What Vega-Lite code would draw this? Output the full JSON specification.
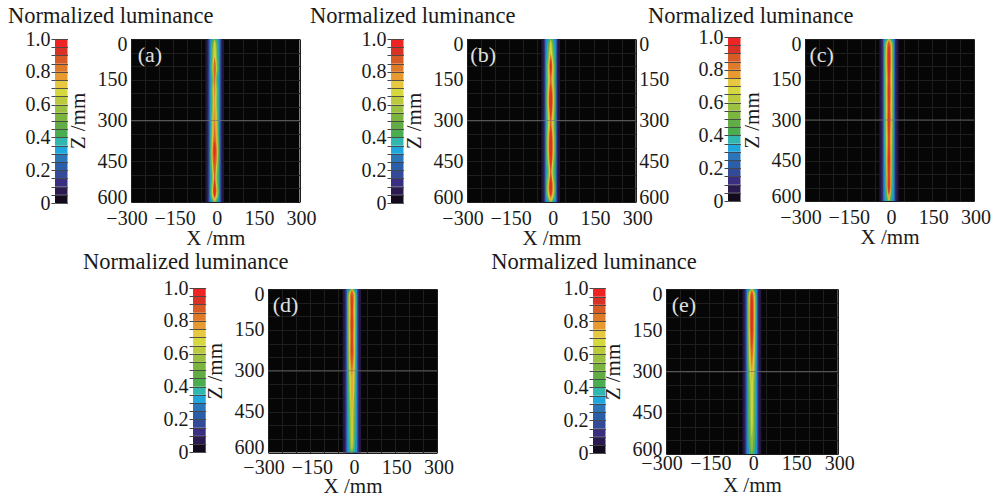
{"$schema":"https://vega.github.io/schema/vega-lite/v6.json","padding":{"left":0,"top":4,"right":0,"bottom":0},"background":"white",
"config":{"view":{"stroke":null},"font":"Liberation Serif","axis":{"labelFont":"Liberation Serif","titleFont":"Liberation Serif","labelFontSize":20,"titleFontSize":21,"titleFontWeight":"normal","labelColor":"#1a1a1a","titleColor":"#1a1a1a","labelOverlap":false,"domain":false}},
"datasets":{
"bar":[{"lo":0,"hi":0.05,"m":0.025},{"lo":0.05,"hi":0.1,"m":0.075},{"lo":0.1,"hi":0.15,"m":0.125},{"lo":0.15,"hi":0.2,"m":0.175},{"lo":0.2,"hi":0.25,"m":0.225},{"lo":0.25,"hi":0.3,"m":0.275},{"lo":0.3,"hi":0.35,"m":0.325},{"lo":0.35,"hi":0.4,"m":0.375},{"lo":0.4,"hi":0.45,"m":0.425},{"lo":0.45,"hi":0.5,"m":0.475},{"lo":0.5,"hi":0.55,"m":0.525},{"lo":0.55,"hi":0.6,"m":0.575},{"lo":0.6,"hi":0.65,"m":0.625},{"lo":0.65,"hi":0.7,"m":0.675},{"lo":0.7,"hi":0.75,"m":0.725},{"lo":0.75,"hi":0.8,"m":0.775},{"lo":0.8,"hi":0.85,"m":0.825},{"lo":0.85,"hi":0.9,"m":0.875},{"lo":0.9,"hi":0.95,"m":0.925},{"lo":0.95,"hi":1,"m":0.975}],
"a":[{"l":0.06,"z":0,"a":-35,"b":31},{"l":0.06,"z":600,"a":-35,"b":31},{"l":0.1,"z":0,"a":-28,"b":24},{"l":0.1,"z":600,"a":-28,"b":24},{"l":0.2,"z":0,"a":-24,"b":20},{"l":0.2,"z":600,"a":-24,"b":20},{"l":0.3,"z":0,"a":-20,"b":16},{"l":0.3,"z":600,"a":-20,"b":16},
{"l":0.38,"z":0,"a":-11,"b":7},{"l":0.38,"z":20,"a":-16,"b":12},{"l":0.38,"z":65,"a":-16,"b":12},{"l":0.38,"z":112,"a":-18,"b":14},{"l":0.38,"z":150,"a":-14,"b":10},{"l":0.38,"z":180,"a":-17,"b":13},{"l":0.38,"z":228,"a":-16,"b":12},{"l":0.38,"z":283,"a":-17,"b":13},{"l":0.38,"z":345,"a":-17,"b":13},{"l":0.38,"z":406,"a":-19,"b":15},{"l":0.38,"z":460,"a":-18,"b":14},{"l":0.38,"z":516,"a":-16,"b":12},{"l":0.38,"z":560,"a":-19,"b":15},{"l":0.38,"z":585,"a":-17,"b":13},{"l":0.38,"z":600,"a":-11,"b":7},
{"l":0.46,"z":0,"a":-7,"b":3},{"l":0.46,"z":20,"a":-14,"b":10},{"l":0.46,"z":65,"a":-14,"b":10},{"l":0.46,"z":112,"a":-17,"b":13},{"l":0.46,"z":150,"a":-11,"b":7},{"l":0.46,"z":180,"a":-15,"b":11},{"l":0.46,"z":228,"a":-14,"b":10},{"l":0.46,"z":283,"a":-15,"b":11},{"l":0.46,"z":345,"a":-15,"b":11},{"l":0.46,"z":406,"a":-18,"b":14},{"l":0.46,"z":460,"a":-17,"b":13},{"l":0.46,"z":516,"a":-14,"b":10},{"l":0.46,"z":560,"a":-18,"b":14},{"l":0.46,"z":585,"a":-15,"b":11},{"l":0.46,"z":600,"a":-7,"b":3},
{"l":0.56,"z":0,"a":-2,"b":-2},{"l":0.56,"z":20,"a":-10,"b":6},{"l":0.56,"z":65,"a":-10,"b":6},{"l":0.56,"z":112,"a":-14,"b":10},{"l":0.56,"z":150,"a":-7,"b":3},{"l":0.56,"z":180,"a":-13,"b":9},{"l":0.56,"z":228,"a":-10,"b":6},{"l":0.56,"z":283,"a":-13,"b":9},{"l":0.56,"z":345,"a":-13,"b":9},{"l":0.56,"z":406,"a":-16,"b":12},{"l":0.56,"z":460,"a":-14,"b":10},{"l":0.56,"z":516,"a":-10,"b":6},{"l":0.56,"z":560,"a":-16,"b":12},{"l":0.56,"z":585,"a":-13,"b":9},{"l":0.56,"z":600,"a":-2,"b":-2},
{"l":0.66,"z":0,"a":-2,"b":-2},{"l":0.66,"z":20,"a":-6,"b":2},{"l":0.66,"z":65,"a":-6,"b":2},{"l":0.66,"z":112,"a":-12,"b":8},{"l":0.66,"z":150,"a":-2,"b":-2},{"l":0.66,"z":180,"a":-10,"b":6},{"l":0.66,"z":228,"a":-6,"b":2},{"l":0.66,"z":283,"a":-10,"b":6},{"l":0.66,"z":345,"a":-10,"b":6},{"l":0.66,"z":406,"a":-13,"b":9},{"l":0.66,"z":460,"a":-12,"b":8},{"l":0.66,"z":516,"a":-6,"b":2},{"l":0.66,"z":560,"a":-13,"b":9},{"l":0.66,"z":585,"a":-10,"b":6},{"l":0.66,"z":600,"a":-2,"b":-2},
{"l":0.76,"z":65,"a":-2,"b":-2},{"l":0.76,"z":112,"a":-9,"b":5},{"l":0.76,"z":150,"a":-2,"b":-2},{"l":0.76,"z":180,"a":-8,"b":4},{"l":0.76,"z":228,"a":-2,"b":-2},{"l":0.76,"z":283,"a":-9,"b":5},{"l":0.76,"z":345,"a":-9,"b":5},{"l":0.76,"z":406,"a":-11,"b":7},{"l":0.76,"z":460,"a":-9,"b":5},{"l":0.76,"z":516,"a":-2,"b":-2},{"l":0.76,"z":560,"a":-11,"b":7},{"l":0.76,"z":585,"a":-6,"b":2},{"l":0.76,"z":600,"a":-2,"b":-2},
{"l":0.86,"z":65,"a":-2,"b":-2},{"l":0.86,"z":112,"a":-8,"b":4},{"l":0.86,"z":150,"a":-2,"b":-2},{"l":0.86,"z":345,"a":-2,"b":-2},{"l":0.86,"z":406,"a":-11,"b":7},{"l":0.86,"z":460,"a":-8,"b":4},{"l":0.86,"z":516,"a":-2,"b":-2},{"l":0.86,"z":560,"a":-11,"b":7},{"l":0.86,"z":585,"a":-2,"b":-2},
{"l":0.94,"z":375,"a":-2,"b":-2},{"l":0.94,"z":406,"a":-8,"b":4},{"l":0.94,"z":445,"a":-2,"b":-2},{"l":0.94,"z":530,"a":-2,"b":-2},{"l":0.94,"z":560,"a":-8,"b":4},{"l":0.94,"z":585,"a":-2,"b":-2}],
"b":[{"l":0.06,"z":0,"a":-35,"b":31},{"l":0.06,"z":600,"a":-35,"b":31},{"l":0.1,"z":0,"a":-28,"b":24},{"l":0.1,"z":600,"a":-28,"b":24},{"l":0.2,"z":0,"a":-24,"b":20},{"l":0.2,"z":600,"a":-24,"b":20},{"l":0.3,"z":0,"a":-21,"b":17},{"l":0.3,"z":600,"a":-21,"b":17},
{"l":0.38,"z":0,"a":-11,"b":7},{"l":0.38,"z":22,"a":-16,"b":12},{"l":0.38,"z":55,"a":-16,"b":12},{"l":0.38,"z":100,"a":-19,"b":15},{"l":0.38,"z":150,"a":-17,"b":13},{"l":0.38,"z":190,"a":-19,"b":15},{"l":0.38,"z":310,"a":-17,"b":13},{"l":0.38,"z":350,"a":-19,"b":15},{"l":0.38,"z":440,"a":-19,"b":15},{"l":0.38,"z":490,"a":-16,"b":12},{"l":0.38,"z":530,"a":-19,"b":15},{"l":0.38,"z":565,"a":-19,"b":15},{"l":0.38,"z":585,"a":-17,"b":13},{"l":0.38,"z":600,"a":-11,"b":7},
{"l":0.46,"z":0,"a":-7,"b":3},{"l":0.46,"z":22,"a":-14,"b":10},{"l":0.46,"z":55,"a":-14,"b":10},{"l":0.46,"z":100,"a":-18,"b":14},{"l":0.46,"z":150,"a":-15,"b":11},{"l":0.46,"z":190,"a":-18,"b":14},{"l":0.46,"z":250,"a":-18,"b":14},{"l":0.46,"z":310,"a":-15,"b":11},{"l":0.46,"z":350,"a":-18,"b":14},{"l":0.46,"z":440,"a":-18,"b":14},{"l":0.46,"z":490,"a":-14,"b":10},{"l":0.46,"z":530,"a":-18,"b":14},{"l":0.46,"z":565,"a":-18,"b":14},{"l":0.46,"z":585,"a":-15,"b":11},{"l":0.46,"z":600,"a":-7,"b":3},
{"l":0.56,"z":0,"a":-2,"b":-2},{"l":0.56,"z":22,"a":-10,"b":6},{"l":0.56,"z":55,"a":-10,"b":6},{"l":0.56,"z":100,"a":-16,"b":12},{"l":0.56,"z":150,"a":-13,"b":9},{"l":0.56,"z":190,"a":-16,"b":12},{"l":0.56,"z":250,"a":-16,"b":12},{"l":0.56,"z":310,"a":-13,"b":9},{"l":0.56,"z":350,"a":-16,"b":12},{"l":0.56,"z":440,"a":-16,"b":12},{"l":0.56,"z":490,"a":-10,"b":6},{"l":0.56,"z":530,"a":-16,"b":12},{"l":0.56,"z":565,"a":-16,"b":12},{"l":0.56,"z":585,"a":-13,"b":9},{"l":0.56,"z":600,"a":-2,"b":-2},
{"l":0.66,"z":0,"a":-2,"b":-2},{"l":0.66,"z":22,"a":-6,"b":2},{"l":0.66,"z":55,"a":-6,"b":2},{"l":0.66,"z":100,"a":-13,"b":9},{"l":0.66,"z":150,"a":-10,"b":6},{"l":0.66,"z":190,"a":-13,"b":9},{"l":0.66,"z":250,"a":-13,"b":9},{"l":0.66,"z":310,"a":-10,"b":6},{"l":0.66,"z":350,"a":-13,"b":9},{"l":0.66,"z":440,"a":-13,"b":9},{"l":0.66,"z":490,"a":-6,"b":2},{"l":0.66,"z":530,"a":-13,"b":9},{"l":0.66,"z":565,"a":-13,"b":9},{"l":0.66,"z":585,"a":-10,"b":6},{"l":0.66,"z":600,"a":-2,"b":-2},
{"l":0.76,"z":55,"a":-2,"b":-2},{"l":0.76,"z":100,"a":-11,"b":7},{"l":0.76,"z":150,"a":-6,"b":2},{"l":0.76,"z":190,"a":-11,"b":7},{"l":0.76,"z":250,"a":-11,"b":7},{"l":0.76,"z":310,"a":-6,"b":2},{"l":0.76,"z":350,"a":-11,"b":7},{"l":0.76,"z":440,"a":-11,"b":7},{"l":0.76,"z":490,"a":-2,"b":-2},{"l":0.76,"z":530,"a":-11,"b":7},{"l":0.76,"z":565,"a":-11,"b":7},{"l":0.76,"z":585,"a":-6,"b":2},{"l":0.76,"z":600,"a":-2,"b":-2},
{"l":0.86,"z":55,"a":-2,"b":-2},{"l":0.86,"z":100,"a":-9,"b":5},{"l":0.86,"z":150,"a":-2,"b":-2},{"l":0.86,"z":190,"a":-9,"b":5},{"l":0.86,"z":250,"a":-9,"b":5},{"l":0.86,"z":310,"a":-2,"b":-2},{"l":0.86,"z":350,"a":-9,"b":5},{"l":0.86,"z":440,"a":-9,"b":5},{"l":0.86,"z":490,"a":-2,"b":-2},{"l":0.86,"z":530,"a":-9,"b":5},{"l":0.86,"z":565,"a":-9,"b":5},{"l":0.86,"z":585,"a":-2,"b":-2},
{"l":0.94,"z":70,"a":-2,"b":-2},{"l":0.94,"z":100,"a":-7,"b":3},{"l":0.94,"z":135,"a":-2,"b":-2},{"l":0.94,"z":170,"a":-2,"b":-2},{"l":0.94,"z":200,"a":-7,"b":3},{"l":0.94,"z":250,"a":-7,"b":3},{"l":0.94,"z":300,"a":-2,"b":-2},{"l":0.94,"z":320,"a":-2,"b":-2},{"l":0.94,"z":350,"a":-7,"b":3},{"l":0.94,"z":440,"a":-7,"b":3},{"l":0.94,"z":480,"a":-2,"b":-2},{"l":0.94,"z":500,"a":-2,"b":-2},{"l":0.94,"z":530,"a":-7,"b":3},{"l":0.94,"z":565,"a":-6,"b":2},{"l":0.94,"z":580,"a":-2,"b":-2}],
"c":[{"l":0.06,"z":0,"a":-36,"b":32},{"l":0.06,"z":600,"a":-36,"b":32},{"l":0.1,"z":0,"a":-29,"b":25},{"l":0.1,"z":600,"a":-29,"b":25},{"l":0.2,"z":0,"a":-24,"b":20},{"l":0.2,"z":600,"a":-24,"b":20},{"l":0.3,"z":0,"a":-21,"b":17},{"l":0.3,"z":600,"a":-21,"b":17},
{"l":0.38,"z":0,"a":-11,"b":7},{"l":0.38,"z":12,"a":-18,"b":14},{"l":0.38,"z":30,"a":-19,"b":15},{"l":0.38,"z":580,"a":-18,"b":14},{"l":0.38,"z":600,"a":-11,"b":7},
{"l":0.46,"z":0,"a":-7,"b":3},{"l":0.46,"z":12,"a":-17,"b":13},{"l":0.46,"z":30,"a":-18,"b":14},{"l":0.46,"z":580,"a":-16,"b":12},{"l":0.46,"z":600,"a":-7,"b":3},
{"l":0.56,"z":0,"a":-2,"b":-2},{"l":0.56,"z":12,"a":-14,"b":10},{"l":0.56,"z":30,"a":-16,"b":12},{"l":0.56,"z":580,"a":-14,"b":10},{"l":0.56,"z":600,"a":-2,"b":-2},
{"l":0.66,"z":0,"a":-2,"b":-2},{"l":0.66,"z":12,"a":-12,"b":8},{"l":0.66,"z":30,"a":-13,"b":9},{"l":0.66,"z":580,"a":-11,"b":7},{"l":0.66,"z":600,"a":-2,"b":-2},
{"l":0.76,"z":0,"a":-2,"b":-2},{"l":0.76,"z":12,"a":-9,"b":5},{"l":0.76,"z":30,"a":-11,"b":7},{"l":0.76,"z":110,"a":-11,"b":7},{"l":0.76,"z":150,"a":-9,"b":5},{"l":0.76,"z":200,"a":-11,"b":7},{"l":0.76,"z":250,"a":-9,"b":5},{"l":0.76,"z":300,"a":-11,"b":7},{"l":0.76,"z":350,"a":-9,"b":5},{"l":0.76,"z":400,"a":-9,"b":5},{"l":0.76,"z":450,"a":-11,"b":7},{"l":0.76,"z":500,"a":-9,"b":5},{"l":0.76,"z":550,"a":-11,"b":7},{"l":0.76,"z":580,"a":-6,"b":2},{"l":0.76,"z":600,"a":-2,"b":-2},
{"l":0.86,"z":5,"a":-2,"b":-2},{"l":0.86,"z":12,"a":-6,"b":2},{"l":0.86,"z":30,"a":-9,"b":5},{"l":0.86,"z":110,"a":-9,"b":5},{"l":0.86,"z":150,"a":-6,"b":2},{"l":0.86,"z":200,"a":-9,"b":5},{"l":0.86,"z":250,"a":-6,"b":2},{"l":0.86,"z":300,"a":-9,"b":5},{"l":0.86,"z":350,"a":-6,"b":2},{"l":0.86,"z":400,"a":-6,"b":2},{"l":0.86,"z":450,"a":-9,"b":5},{"l":0.86,"z":500,"a":-6,"b":2},{"l":0.86,"z":550,"a":-9,"b":5},{"l":0.86,"z":580,"a":-2,"b":-2},
{"l":0.94,"z":15,"a":-2,"b":-2},{"l":0.94,"z":30,"a":-6,"b":2},{"l":0.94,"z":110,"a":-6,"b":2},{"l":0.94,"z":150,"a":-4,"b":0},{"l":0.94,"z":200,"a":-6,"b":2},{"l":0.94,"z":250,"a":-4,"b":0},{"l":0.94,"z":300,"a":-6,"b":2},{"l":0.94,"z":350,"a":-4,"b":0},{"l":0.94,"z":400,"a":-4,"b":0},{"l":0.94,"z":450,"a":-6,"b":2},{"l":0.94,"z":500,"a":-4,"b":0},{"l":0.94,"z":550,"a":-6,"b":2},{"l":0.94,"z":575,"a":-2,"b":-2}],
"d":[{"l":0.06,"z":0,"a":-35,"b":31},{"l":0.06,"z":600,"a":-35,"b":31},{"l":0.1,"z":0,"a":-28,"b":24},{"l":0.1,"z":600,"a":-28,"b":24},{"l":0.2,"z":0,"a":-24,"b":20},{"l":0.2,"z":600,"a":-24,"b":20},{"l":0.3,"z":0,"a":-20,"b":16},{"l":0.3,"z":600,"a":-20,"b":16},
{"l":0.38,"z":0,"a":-11,"b":7},{"l":0.38,"z":12,"a":-18,"b":14},{"l":0.38,"z":30,"a":-19,"b":15},{"l":0.38,"z":320,"a":-17,"b":13},{"l":0.38,"z":440,"a":-16,"b":12},{"l":0.38,"z":590,"a":-14,"b":10},{"l":0.38,"z":600,"a":-11,"b":7},
{"l":0.46,"z":0,"a":-7,"b":3},{"l":0.46,"z":12,"a":-17,"b":13},{"l":0.46,"z":30,"a":-18,"b":14},{"l":0.46,"z":320,"a":-15,"b":11},{"l":0.46,"z":440,"a":-14,"b":10},{"l":0.46,"z":590,"a":-11,"b":7},{"l":0.46,"z":600,"a":-7,"b":3},
{"l":0.56,"z":0,"a":-2,"b":-2},{"l":0.56,"z":12,"a":-14,"b":10},{"l":0.56,"z":30,"a":-16,"b":12},{"l":0.56,"z":270,"a":-14,"b":10},{"l":0.56,"z":320,"a":-13,"b":9},{"l":0.56,"z":440,"a":-10,"b":6},{"l":0.56,"z":570,"a":-10,"b":6},{"l":0.56,"z":590,"a":-7,"b":3},{"l":0.56,"z":600,"a":-2,"b":-2},
{"l":0.66,"z":0,"a":-2,"b":-2},{"l":0.66,"z":12,"a":-12,"b":8},{"l":0.66,"z":30,"a":-13,"b":9},{"l":0.66,"z":270,"a":-12,"b":8},{"l":0.66,"z":320,"a":-10,"b":6},{"l":0.66,"z":380,"a":-10,"b":6},{"l":0.66,"z":440,"a":-6,"b":2},{"l":0.66,"z":570,"a":-6,"b":2},{"l":0.66,"z":590,"a":-2,"b":-2},
{"l":0.76,"z":0,"a":-2,"b":-2},{"l":0.76,"z":12,"a":-9,"b":5},{"l":0.76,"z":30,"a":-11,"b":7},{"l":0.76,"z":90,"a":-9,"b":5},{"l":0.76,"z":120,"a":-11,"b":7},{"l":0.76,"z":180,"a":-9,"b":5},{"l":0.76,"z":230,"a":-11,"b":7},{"l":0.76,"z":270,"a":-9,"b":5},{"l":0.76,"z":320,"a":-6,"b":2},{"l":0.76,"z":380,"a":-6,"b":2},{"l":0.76,"z":440,"a":-3.5,"b":-0.5},{"l":0.76,"z":570,"a":-3.5,"b":-0.5},{"l":0.76,"z":590,"a":-2,"b":-2},
{"l":0.86,"z":5,"a":-2,"b":-2},{"l":0.86,"z":12,"a":-6,"b":2},{"l":0.86,"z":30,"a":-9,"b":5},{"l":0.86,"z":90,"a":-6,"b":2},{"l":0.86,"z":120,"a":-9,"b":5},{"l":0.86,"z":180,"a":-6,"b":2},{"l":0.86,"z":230,"a":-9,"b":5},{"l":0.86,"z":270,"a":-6,"b":2},{"l":0.86,"z":320,"a":-2,"b":-2},
{"l":0.94,"z":15,"a":-2,"b":-2},{"l":0.94,"z":30,"a":-5,"b":1},{"l":0.94,"z":90,"a":-4,"b":0},{"l":0.94,"z":120,"a":-5,"b":1},{"l":0.94,"z":180,"a":-4,"b":0},{"l":0.94,"z":230,"a":-5,"b":1},{"l":0.94,"z":270,"a":-2,"b":-2}],
"e":[{"l":0.06,"z":0,"a":-33,"b":33},{"l":0.06,"z":600,"a":-33,"b":33},{"l":0.1,"z":0,"a":-26,"b":26},{"l":0.1,"z":600,"a":-26,"b":26},{"l":0.2,"z":0,"a":-22,"b":22},{"l":0.2,"z":600,"a":-22,"b":22},{"l":0.3,"z":0,"a":-18,"b":18},{"l":0.3,"z":600,"a":-18,"b":18},
{"l":0.38,"z":0,"a":-9,"b":9},{"l":0.38,"z":12,"a":-16,"b":16},{"l":0.38,"z":30,"a":-17,"b":17},{"l":0.38,"z":290,"a":-15,"b":15},{"l":0.38,"z":340,"a":-14,"b":14},{"l":0.38,"z":540,"a":-13,"b":13},{"l":0.38,"z":600,"a":-9,"b":9},
{"l":0.46,"z":0,"a":-5,"b":5},{"l":0.46,"z":12,"a":-15,"b":15},{"l":0.46,"z":30,"a":-16,"b":16},{"l":0.46,"z":290,"a":-13,"b":13},{"l":0.46,"z":340,"a":-12,"b":12},{"l":0.46,"z":500,"a":-12,"b":12},{"l":0.46,"z":540,"a":-11,"b":11},{"l":0.46,"z":590,"a":-10,"b":10},{"l":0.46,"z":600,"a":-5,"b":5},
{"l":0.56,"z":0,"a":0,"b":0},{"l":0.56,"z":12,"a":-12,"b":12},{"l":0.56,"z":30,"a":-14,"b":14},{"l":0.56,"z":220,"a":-12,"b":12},{"l":0.56,"z":290,"a":-11,"b":11},{"l":0.56,"z":340,"a":-8,"b":8},{"l":0.56,"z":500,"a":-8,"b":8},{"l":0.56,"z":540,"a":-6,"b":6},{"l":0.56,"z":590,"a":-3,"b":3},{"l":0.56,"z":600,"a":0,"b":0},
{"l":0.66,"z":0,"a":0,"b":0},{"l":0.66,"z":12,"a":-10,"b":10},{"l":0.66,"z":30,"a":-11,"b":11},{"l":0.66,"z":220,"a":-10,"b":10},{"l":0.66,"z":290,"a":-8,"b":8},{"l":0.66,"z":340,"a":-4,"b":4},{"l":0.66,"z":500,"a":-4,"b":4},{"l":0.66,"z":540,"a":0,"b":0},
{"l":0.76,"z":0,"a":0,"b":0},{"l":0.76,"z":12,"a":-7,"b":7},{"l":0.76,"z":30,"a":-9,"b":9},{"l":0.76,"z":160,"a":-9,"b":9},{"l":0.76,"z":220,"a":-7,"b":7},{"l":0.76,"z":290,"a":-4,"b":4},{"l":0.76,"z":340,"a":0,"b":0},
{"l":0.86,"z":5,"a":0,"b":0},{"l":0.86,"z":12,"a":-4,"b":4},{"l":0.86,"z":30,"a":-7,"b":7},{"l":0.86,"z":160,"a":-7,"b":7},{"l":0.86,"z":220,"a":-4,"b":4},{"l":0.86,"z":290,"a":0,"b":0},
{"l":0.94,"z":15,"a":0,"b":0},{"l":0.94,"z":30,"a":-4,"b":4},{"l":0.94,"z":160,"a":-4,"b":4},{"l":0.94,"z":220,"a":0,"b":0}]
},
"bounds":"flush","spacing":250,"resolve":{"scale":{"color":"independent"}},
"vconcat":[
{"bounds":"flush","spacing":0,"resolve":{"scale":{"color":"independent"}},"hconcat":[
{"data":{"values":[]},"mark":"point","encoding":{},"width":54.5,"height":163},
{"title":{"text":"Normalized luminance","anchor":"start","frame":"group","align":"left","baseline":"alphabetic","dx":-47,"offset":-16,"fontSize":22.5,"fontWeight":"normal","font":"Liberation Serif","color":"#1a1a1a"},"data":{"name":"bar"},"width":12.5,"height":163,"mark":"rect","encoding":{"y":{"field":"lo","type":"quantitative","scale":{"domain":[0,1],"range":[164,0]},"axis":{"values":[0,0.05,0.1,0.15,0.2,0.25,0.3,0.35,0.4,0.45,0.5,0.55,0.6,0.65,0.7,0.75,0.8,0.85,0.9,0.95,1],"labelExpr":"round(datum.value*20)%4==0?(datum.value==0?'0':format(datum.value,'.1f')):''","title":null,"grid":true,"gridColor":"#444","gridOpacity":0.9,"zindex":1,"tickColor":"#444","tickSize":4,"labelPadding":1}},"y2":{"field":"hi"},"x":{"value":0},"x2":{"value":12.5},"color":{"field":"m","type":"quantitative","legend":null,"scale":{"domain":[0.025,0.075,0.125,0.175,0.225,0.275,0.325,0.375,0.425,0.475,0.525,0.575,0.625,0.675,0.725,0.775,0.825,0.875,0.925,0.975],"range":["#140a1e","#2a1a50","#3a2e80","#324a98","#2a5fa8","#2a76b8","#1fa6dc","#30b8b0","#4aae50","#62ac45","#7cb440","#9cc040","#bcca3e","#d6d840","#e8c840","#e89a30","#e07a28","#d85a24","#d83226","#ee2424"]}}}},
{"data":{"values":[]},"mark":"point","encoding":{},"width":62.5,"height":163},
{"width":168.5,"height":163,"view":{"fill":"#060606"},"encoding":{"x":{"field":"a","type":"quantitative","scale":{"domain":[-300,300]},"axis":{"values":[-300,-250,-200,-150,-100,-50,0,50,100,150,200,250,300],"labelExpr":"datum.value%150==0?replace(datum.label,'-','−'):''","format":"d","title":"X /mm","ticks":false,"grid":true,"gridColor":"#1e1e1e","labelFlush":false,"labelPadding":6,"titlePadding":-1,"labelOffset":{"expr":"datum.value==-300?-4.5:1.5"}}},"y":{"field":"z","type":"quantitative","scale":{"domain":[0,600],"reverse":true},"axis":{"values":[0,50,100,150,200,250,300,350,400,450,500,550,600],"labelExpr":"datum.value%150==0?datum.label:''","format":"d","title":"Z /mm","ticks":false,"grid":true,"gridColor":"#1e1e1e","labelFlush":true,"labelFlushOffset":5,"labelPadding":4,"titlePadding":9}}},"layer":[
{"data":{"name":"a"},"mark":{"type":"area","orient":"horizontal","interpolate":"basis","clip":true},"encoding":{"x2":{"field":"b"},"detail":{"field":"l"},"color":{"field":"l","type":"quantitative","legend":null,"scale":{"domain":[0.025,0.075,0.125,0.175,0.225,0.275,0.325,0.375,0.425,0.475,0.525,0.575,0.625,0.675,0.725,0.775,0.825,0.875,0.925,0.975],"range":["#140a1e","#2a1a50","#3a2e80","#324a98","#2a5fa8","#2a76b8","#1fa6dc","#30b8b0","#4aae50","#62ac45","#7cb440","#9cc040","#bcca3e","#d6d840","#e8c840","#e89a30","#e07a28","#d85a24","#d83226","#ee2424"]}}}},
{"data":{"values":[{"a":-300,"b":300,"z":300}]},"mark":{"type":"rule","color":"#777","opacity":0.7},"encoding":{"x2":{"field":"b"}}},
{"data":{"values":[{"a":-276,"z":59,"t":"(a)"}]},"mark":{"type":"text","align":"left","baseline":"middle","fontSize":22,"color":"#e0e0e0","font":"Liberation Serif"},"encoding":{"text":{"field":"t"}}}
]},
{"data":{"values":[]},"mark":"point","encoding":{},"width":91,"height":163},
{"title":{"text":"Normalized luminance","anchor":"start","frame":"group","align":"left","baseline":"alphabetic","dx":-81,"offset":-16,"fontSize":22.5,"fontWeight":"normal","font":"Liberation Serif","color":"#1a1a1a"},"data":{"name":"bar"},"width":12.5,"height":163,"mark":"rect","encoding":{"y":{"field":"lo","type":"quantitative","scale":{"domain":[0,1],"range":[164,0]},"axis":{"values":[0,0.05,0.1,0.15,0.2,0.25,0.3,0.35,0.4,0.45,0.5,0.55,0.6,0.65,0.7,0.75,0.8,0.85,0.9,0.95,1],"labelExpr":"round(datum.value*20)%4==0?(datum.value==0?'0':format(datum.value,'.1f')):''","title":null,"grid":true,"gridColor":"#444","gridOpacity":0.9,"zindex":1,"tickColor":"#444","tickSize":4,"labelPadding":1}},"y2":{"field":"hi"},"x":{"value":0},"x2":{"value":12.5},"color":{"field":"m","type":"quantitative","legend":null,"scale":{"domain":[0.025,0.075,0.125,0.175,0.225,0.275,0.325,0.375,0.425,0.475,0.525,0.575,0.625,0.675,0.725,0.775,0.825,0.875,0.925,0.975],"range":["#140a1e","#2a1a50","#3a2e80","#324a98","#2a5fa8","#2a76b8","#1fa6dc","#30b8b0","#4aae50","#62ac45","#7cb440","#9cc040","#bcca3e","#d6d840","#e8c840","#e89a30","#e07a28","#d85a24","#d83226","#ee2424"]}}}},
{"data":{"values":[]},"mark":"point","encoding":{},"width":63,"height":163},
{"width":168.7,"height":163,"view":{"fill":"#060606"},"resolve":{"scale":{"y":"independent"}},"encoding":{"x":{"field":"a","type":"quantitative","scale":{"domain":[-300,300]},"axis":{"values":[-300,-250,-200,-150,-100,-50,0,50,100,150,200,250,300],"labelExpr":"datum.value%150==0?replace(datum.label,'-','−'):''","format":"d","title":"X /mm","ticks":false,"grid":true,"gridColor":"#1e1e1e","labelFlush":false,"labelPadding":6,"titlePadding":-1,"labelOffset":{"expr":"datum.value==-300?-4.5:1.5"}}}},"layer":[
{"data":{"name":"b"},"mark":{"type":"area","orient":"horizontal","interpolate":"basis","clip":true},"encoding":{"x2":{"field":"b"},"y":{"field":"z","type":"quantitative","scale":{"domain":[0,600],"reverse":true},"axis":{"orient":"left","values":[0,50,100,150,200,250,300,350,400,450,500,550,600],"labelExpr":"datum.value%150==0?datum.label:''","format":"d","title":"Z /mm","ticks":false,"grid":true,"gridColor":"#1e1e1e","labelFlush":true,"labelFlushOffset":5,"labelPadding":4,"titlePadding":9}},"detail":{"field":"l"},"color":{"field":"l","type":"quantitative","legend":null,"scale":{"domain":[0.025,0.075,0.125,0.175,0.225,0.275,0.325,0.375,0.425,0.475,0.525,0.575,0.625,0.675,0.725,0.775,0.825,0.875,0.925,0.975],"range":["#140a1e","#2a1a50","#3a2e80","#324a98","#2a5fa8","#2a76b8","#1fa6dc","#30b8b0","#4aae50","#62ac45","#7cb440","#9cc040","#bcca3e","#d6d840","#e8c840","#e89a30","#e07a28","#d85a24","#d83226","#ee2424"]}}}},
{"data":{"values":[{"a":-300,"b":300,"z":300}]},"mark":{"type":"rule","color":"#777","opacity":0.7},"encoding":{"x2":{"field":"b"},"y":{"field":"z","type":"quantitative","scale":{"domain":[0,600],"reverse":true},"axis":{"orient":"right","values":[0,150,300,450,600],"format":"d","title":null,"ticks":false,"grid":false,"labelFlush":true,"labelFlushOffset":5,"labelPadding":3}}}},
{"data":{"values":[{"a":-288,"z":59,"t":"(b)"}]},"mark":{"type":"text","align":"left","baseline":"middle","fontSize":22,"color":"#e0e0e0","font":"Liberation Serif"},"encoding":{"y":{"field":"z","type":"quantitative","scale":{"domain":[0,600],"reverse":true},"axis":null},"text":{"field":"t"}}}
]},
{"data":{"values":[]},"mark":"point","encoding":{},"width":91.8,"height":163},
{"title":{"text":"Normalized luminance","anchor":"start","frame":"group","align":"left","baseline":"alphabetic","dx":-80,"offset":-18,"fontSize":22.5,"fontWeight":"normal","font":"Liberation Serif","color":"#1a1a1a"},"data":{"name":"bar"},"width":12.5,"height":163,"mark":"rect","encoding":{"y":{"field":"lo","type":"quantitative","scale":{"domain":[0,1],"range":[162,-2]},"axis":{"values":[0,0.05,0.1,0.15,0.2,0.25,0.3,0.35,0.4,0.45,0.5,0.55,0.6,0.65,0.7,0.75,0.8,0.85,0.9,0.95,1],"labelExpr":"round(datum.value*20)%4==0?(datum.value==0?'0':format(datum.value,'.1f')):''","title":null,"grid":true,"gridColor":"#444","gridOpacity":0.9,"zindex":1,"tickColor":"#444","tickSize":4,"labelPadding":1}},"y2":{"field":"hi"},"x":{"value":0},"x2":{"value":12.5},"color":{"field":"m","type":"quantitative","legend":null,"scale":{"domain":[0.025,0.075,0.125,0.175,0.225,0.275,0.325,0.375,0.425,0.475,0.525,0.575,0.625,0.675,0.725,0.775,0.825,0.875,0.925,0.975],"range":["#140a1e","#2a1a50","#3a2e80","#324a98","#2a5fa8","#2a76b8","#1fa6dc","#30b8b0","#4aae50","#62ac45","#7cb440","#9cc040","#bcca3e","#d6d840","#e8c840","#e89a30","#e07a28","#d85a24","#d83226","#ee2424"]}}}},
{"data":{"values":[]},"mark":"point","encoding":{},"width":63.8,"height":163},
{"width":169,"height":162,"view":{"fill":"#060606"},"encoding":{"x":{"field":"a","type":"quantitative","scale":{"domain":[-300,300]},"axis":{"values":[-300,-250,-200,-150,-100,-50,0,50,100,150,200,250,300],"labelExpr":"datum.value%150==0?replace(datum.label,'-','−'):''","format":"d","title":"X /mm","ticks":false,"grid":true,"gridColor":"#1e1e1e","labelFlush":false,"labelPadding":6,"titlePadding":-1,"labelOffset":{"expr":"datum.value==-300?-4.5:1.5"}}},"y":{"field":"z","type":"quantitative","scale":{"domain":[0,600],"reverse":true},"axis":{"values":[0,50,100,150,200,250,300,350,400,450,500,550,600],"labelExpr":"datum.value%150==0?datum.label:''","format":"d","title":"Z /mm","ticks":false,"grid":true,"gridColor":"#1e1e1e","labelFlush":true,"labelFlushOffset":5,"labelPadding":4,"titlePadding":9}}},"layer":[
{"data":{"name":"c"},"mark":{"type":"area","orient":"horizontal","interpolate":"basis","clip":true},"encoding":{"x2":{"field":"b"},"detail":{"field":"l"},"color":{"field":"l","type":"quantitative","legend":null,"scale":{"domain":[0.025,0.075,0.125,0.175,0.225,0.275,0.325,0.375,0.425,0.475,0.525,0.575,0.625,0.675,0.725,0.775,0.825,0.875,0.925,0.975],"range":["#140a1e","#2a1a50","#3a2e80","#324a98","#2a5fa8","#2a76b8","#1fa6dc","#30b8b0","#4aae50","#62ac45","#7cb440","#9cc040","#bcca3e","#d6d840","#e8c840","#e89a30","#e07a28","#d85a24","#d83226","#ee2424"]}}}},
{"data":{"values":[{"a":-300,"b":300,"z":300}]},"mark":{"type":"rule","color":"#777","opacity":0.7},"encoding":{"x2":{"field":"b"}}},
{"data":{"values":[{"a":-284,"z":59,"t":"(c)"}]},"mark":{"type":"text","align":"left","baseline":"middle","fontSize":22,"color":"#e0e0e0","font":"Liberation Serif"},"encoding":{"text":{"field":"t"}}}
]}
]},
{"bounds":"flush","spacing":0,"resolve":{"scale":{"color":"independent"}},"hconcat":[
{"data":{"values":[]},"mark":"point","encoding":{},"width":192.3,"height":163},
{"title":{"text":"Normalized luminance","anchor":"start","frame":"group","align":"left","baseline":"alphabetic","dx":-110,"offset":-13,"fontSize":22.5,"fontWeight":"normal","font":"Liberation Serif","color":"#1a1a1a"},"data":{"name":"bar"},"width":12.7,"height":163.5,"mark":"rect","encoding":{"y":{"field":"lo","type":"quantitative","scale":{"domain":[0,1],"range":[163.3,-1]},"axis":{"values":[0,0.05,0.1,0.15,0.2,0.25,0.3,0.35,0.4,0.45,0.5,0.55,0.6,0.65,0.7,0.75,0.8,0.85,0.9,0.95,1],"labelExpr":"round(datum.value*20)%4==0?(datum.value==0?'0':format(datum.value,'.1f')):''","title":null,"grid":true,"gridColor":"#444","gridOpacity":0.9,"zindex":1,"tickColor":"#444","tickSize":4,"labelPadding":1}},"y2":{"field":"hi"},"x":{"value":0},"x2":{"value":12.7},"color":{"field":"m","type":"quantitative","legend":null,"scale":{"domain":[0.025,0.075,0.125,0.175,0.225,0.275,0.325,0.375,0.425,0.475,0.525,0.575,0.625,0.675,0.725,0.775,0.825,0.875,0.925,0.975],"range":["#140a1e","#2a1a50","#3a2e80","#324a98","#2a5fa8","#2a76b8","#1fa6dc","#30b8b0","#4aae50","#62ac45","#7cb440","#9cc040","#bcca3e","#d6d840","#e8c840","#e89a30","#e07a28","#d85a24","#d83226","#ee2424"]}}}},
{"data":{"values":[]},"mark":"point","encoding":{},"width":61.8,"height":163},
{"width":169,"height":163.5,"view":{"fill":"#060606"},"encoding":{"x":{"field":"a","type":"quantitative","scale":{"domain":[-300,300]},"axis":{"values":[-300,-250,-200,-150,-100,-50,0,50,100,150,200,250,300],"labelExpr":"datum.value%150==0?replace(datum.label,'-','−'):''","format":"d","title":"X /mm","ticks":false,"grid":true,"gridColor":"#1e1e1e","labelFlush":false,"labelPadding":4.5,"titlePadding":-2,"labelOffset":{"expr":"datum.value==-300?-4.5:1.5"}}},"y":{"field":"z","type":"quantitative","scale":{"domain":[0,600],"reverse":true},"axis":{"values":[0,50,100,150,200,250,300,350,400,450,500,550,600],"labelExpr":"datum.value%150==0?datum.label:''","format":"d","title":"Z /mm","ticks":false,"grid":true,"gridColor":"#1e1e1e","labelFlush":true,"labelFlushOffset":5,"labelPadding":4,"titlePadding":9}}},"layer":[
{"data":{"name":"d"},"mark":{"type":"area","orient":"horizontal","interpolate":"basis","clip":true},"encoding":{"x2":{"field":"b"},"detail":{"field":"l"},"color":{"field":"l","type":"quantitative","legend":null,"scale":{"domain":[0.025,0.075,0.125,0.175,0.225,0.275,0.325,0.375,0.425,0.475,0.525,0.575,0.625,0.675,0.725,0.775,0.825,0.875,0.925,0.975],"range":["#140a1e","#2a1a50","#3a2e80","#324a98","#2a5fa8","#2a76b8","#1fa6dc","#30b8b0","#4aae50","#62ac45","#7cb440","#9cc040","#bcca3e","#d6d840","#e8c840","#e89a30","#e07a28","#d85a24","#d83226","#ee2424"]}}}},
{"data":{"values":[{"a":-300,"b":300,"z":300}]},"mark":{"type":"rule","color":"#777","opacity":0.7},"encoding":{"x2":{"field":"b"}}},
{"data":{"values":[{"a":-283,"z":59,"t":"(d)"}]},"mark":{"type":"text","align":"left","baseline":"middle","fontSize":22,"color":"#e0e0e0","font":"Liberation Serif"},"encoding":{"text":{"field":"t"}}}
]},
{"data":{"values":[]},"mark":"point","encoding":{},"width":155.4,"height":163},
{"title":{"text":"Normalized luminance","anchor":"start","frame":"group","align":"left","baseline":"alphabetic","dx":-101.7,"offset":-13,"fontSize":22.5,"fontWeight":"normal","font":"Liberation Serif","color":"#1a1a1a"},"data":{"name":"bar"},"width":12.5,"height":165,"mark":"rect","encoding":{"y":{"field":"lo","type":"quantitative","scale":{"domain":[0,1],"range":[164.3,-0.7]},"axis":{"values":[0,0.05,0.1,0.15,0.2,0.25,0.3,0.35,0.4,0.45,0.5,0.55,0.6,0.65,0.7,0.75,0.8,0.85,0.9,0.95,1],"labelExpr":"round(datum.value*20)%4==0?(datum.value==0?'0':format(datum.value,'.1f')):''","title":null,"grid":true,"gridColor":"#444","gridOpacity":0.9,"zindex":1,"tickColor":"#444","tickSize":4,"labelPadding":1}},"y2":{"field":"hi"},"x":{"value":0},"x2":{"value":12.5},"color":{"field":"m","type":"quantitative","legend":null,"scale":{"domain":[0.025,0.075,0.125,0.175,0.225,0.275,0.325,0.375,0.425,0.475,0.525,0.575,0.625,0.675,0.725,0.775,0.825,0.875,0.925,0.975],"range":["#140a1e","#2a1a50","#3a2e80","#324a98","#2a5fa8","#2a76b8","#1fa6dc","#30b8b0","#4aae50","#62ac45","#7cb440","#9cc040","#bcca3e","#d6d840","#e8c840","#e89a30","#e07a28","#d85a24","#d83226","#ee2424"]}}}},
{"data":{"values":[]},"mark":"point","encoding":{},"width":59.1,"height":163},
{"width":171.7,"height":165,"view":{"fill":"#060606"},"encoding":{"x":{"field":"a","type":"quantitative","scale":{"domain":[-300,300]},"axis":{"values":[-300,-250,-200,-150,-100,-50,0,50,100,150,200,250,300],"labelExpr":"datum.value%150==0?replace(datum.label,'-','−'):''","format":"d","title":"X /mm","ticks":false,"grid":true,"gridColor":"#1e1e1e","labelFlush":false,"labelPadding":-1,"titlePadding":1,"labelOffset":{"expr":"datum.value==-300?-4.5:1.5"}}},"y":{"field":"z","type":"quantitative","scale":{"domain":[0,600],"reverse":true},"axis":{"values":[0,50,100,150,200,250,300,350,400,450,500,550,600],"labelExpr":"datum.value%150==0?datum.label:''","format":"d","title":"Z /mm","ticks":false,"grid":true,"gridColor":"#1e1e1e","labelFlush":true,"labelFlushOffset":5,"labelPadding":4,"titlePadding":9}}},"layer":[
{"data":{"name":"e"},"mark":{"type":"area","orient":"horizontal","interpolate":"basis","clip":true},"encoding":{"x2":{"field":"b"},"detail":{"field":"l"},"color":{"field":"l","type":"quantitative","legend":null,"scale":{"domain":[0.025,0.075,0.125,0.175,0.225,0.275,0.325,0.375,0.425,0.475,0.525,0.575,0.625,0.675,0.725,0.775,0.825,0.875,0.925,0.975],"range":["#140a1e","#2a1a50","#3a2e80","#324a98","#2a5fa8","#2a76b8","#1fa6dc","#30b8b0","#4aae50","#62ac45","#7cb440","#9cc040","#bcca3e","#d6d840","#e8c840","#e89a30","#e07a28","#d85a24","#d83226","#ee2424"]}}}},
{"data":{"values":[{"a":-300,"b":300,"z":300}]},"mark":{"type":"rule","color":"#777","opacity":0.7},"encoding":{"x2":{"field":"b"}}},
{"data":{"values":[{"a":-280,"z":59,"t":"(e)"}]},"mark":{"type":"text","align":"left","baseline":"middle","fontSize":22,"color":"#e0e0e0","font":"Liberation Serif"},"encoding":{"text":{"field":"t"}}}
]}
]}
]}
